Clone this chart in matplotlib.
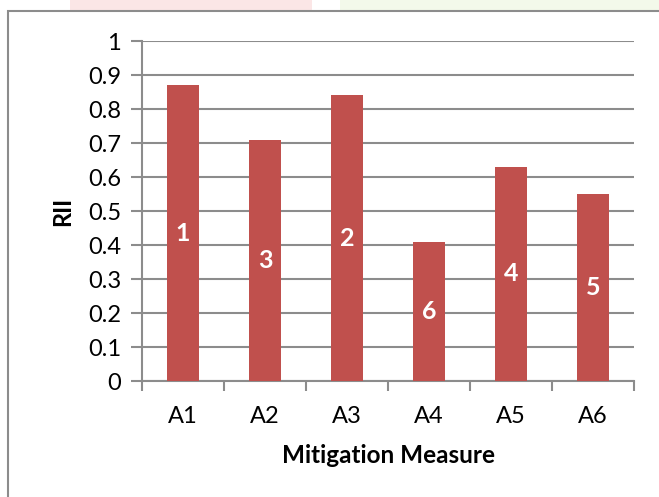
import matplotlib
matplotlib.use("Agg")
import matplotlib.pyplot as plt
from matplotlib.patches import Rectangle

categories = ["A1", "A2", "A3", "A4", "A5", "A6"]
rii_values = [0.87, 0.71, 0.84, 0.41, 0.63, 0.55]
ranks = ["1", "3", "2", "6", "4", "5"]
y_ticks = [0, 0.1, 0.2, 0.3, 0.4, 0.5, 0.6, 0.7, 0.8, 0.9, 1]
y_tick_labels = ["0", "0.1", "0.2", "0.3", "0.4", "0.5", "0.6", "0.7", "0.8", "0.9", "1"]

plt.rcParams["font.family"] = ["Lato", "DejaVu Sans"]

W, H = 659, 497
fig = plt.figure(figsize=(W / 100, H / 100), dpi=100)
fig.patch.set_facecolor("white")

# faint coloured band along the very top
fig.patches.append(Rectangle((70 / W, 1 - 11 / H), 242 / W, 11 / H, transform=fig.transFigure,
                             facecolor="#fbe6e6", edgecolor="none", zorder=0))
fig.patches.append(Rectangle((340 / W, 1 - 11 / H), 319 / W, 11 / H, transform=fig.transFigure,
                             facecolor="#f3f9ea", edgecolor="none", zorder=0))

# chart frame
fig.patches.append(Rectangle((8 / W, -0.05), 1.2, 1.05 - 11 / H, transform=fig.transFigure,
                             facecolor="white", edgecolor="#8c8c8c", linewidth=1.5, zorder=1))

ax = fig.add_axes([142 / W, 1 - 381 / H, (634 - 142) / W, (381 - 41) / H])
ax.set_facecolor("none")
ax.set_zorder(2)

x = range(len(categories))
bars = ax.bar(x, rii_values, width=0.4, color="#C0504D", zorder=3)
for xi, v, r in zip(x, rii_values, ranks):
    ax.text(xi, v / 2, r, ha="center", va="center", color="white",
            fontsize=18, fontweight="bold", zorder=4)

ax.set_xlim(-0.5, len(categories) - 0.5)
ax.set_ylim(0, 1)
ax.set_yticks(y_ticks)
ax.set_yticklabels(y_tick_labels, fontsize=17)
ax.set_xticks(list(x))
ax.set_xticklabels(categories, fontsize=17)
ax.set_xticks([i - 0.5 for i in range(len(categories) + 1)], minor=True)

ax.yaxis.grid(True, color="#8c8c8c", linewidth=1.5, zorder=0)
ax.set_axisbelow(True)
for s in ["top", "right"]:
    ax.spines[s].set_visible(False)
for s in ["left", "bottom"]:
    ax.spines[s].set_color("#8c8c8c")
    ax.spines[s].set_linewidth(1.5)

ax.tick_params(axis="y", length=8, width=1.5, color="#8c8c8c", pad=7, labelcolor="black")
ax.tick_params(axis="x", which="major", length=0, pad=18, labelcolor="black")
ax.tick_params(axis="x", which="minor", length=7, width=1.5, color="#8c8c8c")

ax.set_xlabel("Mitigation Measure", fontsize=17.5, fontweight="bold", labelpad=12)
ax.set_ylabel("RII", fontsize=17, fontweight="bold", labelpad=10)

fig.savefig("out.png", dpi=100)
